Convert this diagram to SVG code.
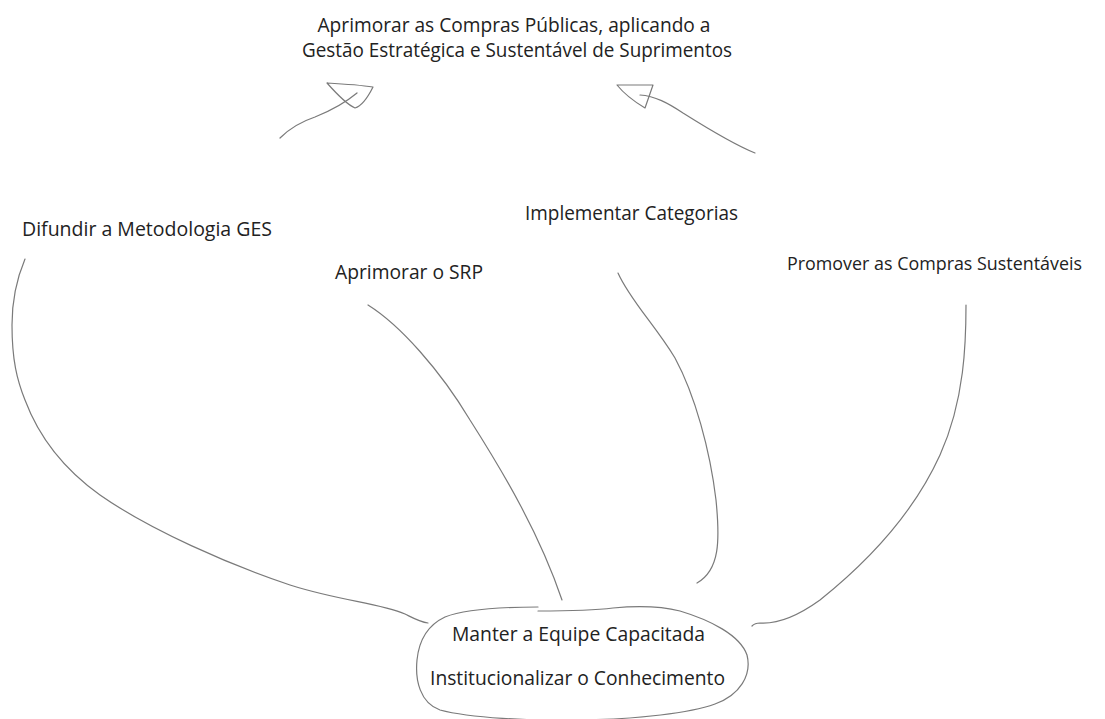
<svg xmlns="http://www.w3.org/2000/svg" width="1105" height="719" viewBox="0 0 1105 719">
<style>
  text { font-family: "Open Sans", "Noto Sans", "DejaVu Sans", sans-serif; font-weight: 400; font-size: 20px; fill: #222222; }
  .sm { font-size: 19px; }
  .ln { fill: none; stroke: #7a7a7a; stroke-width: 1.2; stroke-linecap: round; stroke-linejoin: round; }
</style>
<rect width="1105" height="719" fill="#ffffff"/>
<g id="goal">
  <text x="514" y="32" text-anchor="middle" textLength="393" lengthAdjust="spacingAndGlyphs">Aprimorar as Compras Públicas, aplicando a</text>
  <text x="517" y="57" text-anchor="middle" textLength="430" lengthAdjust="spacingAndGlyphs">Gestão Estratégica e Sustentável de Suprimentos</text>
</g>
<g id="difundir">
  <text x="22" y="236" textLength="250" lengthAdjust="spacingAndGlyphs">Difundir a Metodologia GES</text>
</g>
<g id="srp">
  <text x="335" y="279" textLength="148" lengthAdjust="spacingAndGlyphs">Aprimorar o SRP</text>
</g>
<g id="categorias">
  <text x="525" y="220" textLength="213" lengthAdjust="spacingAndGlyphs">Implementar Categorias</text>
</g>
<g id="sustentaveis">
  <text class="sm" x="787" y="270" textLength="295" lengthAdjust="spacingAndGlyphs">Promover as Compras Sustentáveis</text>
</g>
<g id="base">
  <path class="ln" d="M 538 611 C 560 611, 590 611, 613 608 C 635 606, 660 606, 680 611 C 710 620, 740 635, 747 655 C 752 675, 740 695, 715 704 C 690 713, 640 719, 580 720 C 530 721, 470 718, 440 710 C 420 703, 415 680, 417 660 C 419 640, 428 625, 445 617 C 465 609, 500 607, 538 607"/>
  <text x="452" y="641" textLength="253" lengthAdjust="spacingAndGlyphs">Manter a Equipe Capacitada</text>
  <text x="430" y="685" textLength="295" lengthAdjust="spacingAndGlyphs">Institucionalizar o Conhecimento</text>
</g>
<g id="connectors">
  <path class="ln" d="M 25 259 C 17 278, 12 300, 12 325 C 12 360, 17 380, 25 400 C 40 440, 65 470, 100 495 C 150 530, 230 565, 290 585 C 340 601, 380 603, 405 614 C 415 619, 420 622, 428 623"/>
  <path class="ln" d="M 368 305 C 400 325, 440 370, 470 420 C 505 475, 540 535, 562 600"/>
  <path class="ln" d="M 618 273 C 630 300, 655 325, 675 358 C 695 395, 710 450, 716 500 C 720 540, 720 570, 697 583"/>
  <path class="ln" d="M 966 305 C 966 340, 965 400, 940 455 C 915 510, 870 560, 820 600 C 795 618, 775 624, 760 623 C 755 623, 753 625, 752 626"/>
  <path class="ln" d="M 280 138 C 290 128, 300 122, 315 117 C 330 111, 345 103, 357 93"/>
  <path class="ln" d="M 327 83 C 345 84, 360 85, 373 87 C 368 97, 362 106, 355 108 C 348 105, 335 92, 327 83 Z"/>
  <path class="ln" d="M 755 153 C 735 145, 710 130, 683 113 C 668 103, 655 96, 640 95"/>
  <path class="ln" d="M 617 85 L 653 85 L 645 108 C 635 102, 625 95, 617 85 Z"/>
</g>
</svg>
